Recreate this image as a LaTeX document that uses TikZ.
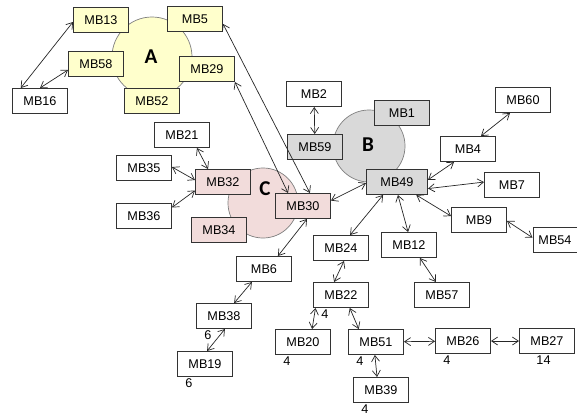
\documentclass[tikz,border=0pt]{standalone}
\usepackage{fontspec}
\setmainfont{Liberation Sans}
\newfontfamily\grpfont{Carlito}
\definecolor{mbyellow}{HTML}{FFFFCC}
\definecolor{mbgray}{HTML}{D9D9D9}
\definecolor{mbpink}{HTML}{F2DCDB}
\definecolor{rimgray}{HTML}{7F7F7F}
\usetikzlibrary{arrows.meta, positioning}
\tikzset{
  mbox/.style = {rectangle, draw = black!80, line width = 0.7pt, minimum width = 1.375cm, minimum height = 0.625cm, inner sep = 1pt, font = \fontsize{9}{10}\selectfont},
  grp/.style = {circle, draw = rimgray, line width = 0.5pt, inner sep = 0pt},
  grpname/.style = {font = \grpfont\bfseries\fontsize{15}{15}\selectfont},
  lnk/.style = {{Straight Barb[length=1.5mm, width=2mm]}-{Straight Barb[length=1.5mm, width=2mm]}, line width = 0.5pt, black!85},
  num/.style = {font = \fontsize{9}{10}\selectfont, inner sep = 0pt, anchor = north west, xshift = 0.2cm, yshift = -0.04cm}
}
\begin{document}
\begin{tikzpicture}[x = 0.025cm, y = -0.025cm]
\useasboundingbox (0,0) rectangle (577,415);
% groups
\node[grp, fill = mbyellow, minimum size = 2cm] (grpA) at (152,57) {};
\node[grp, fill = mbgray, minimum size = 1.8cm] (grpB) at (369,146) {};
\node[grp, fill = mbpink, minimum size = 1.75cm] (grpC) at (263,203) {};
\node[grpname] (nameA) at (151,57) {A};
\node[grpname] (nameB) at (368,145) {B};
\node[grpname] (nameC) at (265,189) {C};
% group A
\node[mbox, fill = mbyellow] (mb13) at (101,20) {MB13};
\node[mbox, fill = mbyellow] (mb5) at (195,19) {MB5};
\node[mbox, fill = mbyellow] (mb58) at (96,64) {MB58};
\node[mbox, fill = mbyellow] (mb29) at (207,69) {MB29};
\node[mbox, fill = mbyellow] (mb52) at (152,101) {MB52};
\node[mbox, fill = white] (mb16) at (40,101) {MB16};
% group B
\node[mbox, fill = white] (mb2) at (314,94) {MB2};
\node[mbox, fill = mbgray] (mb1) at (402,113) {MB1};
\node[mbox, fill = mbgray] (mb59) at (315,147) {MB59};
\node[mbox, fill = mbgray, minimum width = 1.525cm] (mb49) at (397,182) {MB49};
\node[mbox, fill = white] (mb60) at (523,100) {MB60};
\node[mbox, fill = white] (mb4) at (468,149) {MB4};
\node[mbox, fill = white] (mb7) at (512,185) {MB7};
\node[mbox, fill = white] (mb9) at (479,220) {MB9};
\node[mbox, fill = white, minimum width = 1.1cm] (mb54) at (555,240) {MB54};
\node[mbox, fill = white] (mb24) at (341,248) {MB24};
\node[mbox, fill = white] (mb12) at (409,245) {MB12};
\node[mbox, fill = white] (mb57) at (442,295) {MB57};
% group C
\node[mbox, fill = white] (mb21) at (182,135) {MB21};
\node[mbox, fill = white] (mb35) at (144,168) {MB35};
\node[mbox, fill = white] (mb36) at (144,216) {MB36};
\node[mbox, fill = mbpink] (mb32) at (223,182) {MB32};
\node[mbox, fill = mbpink] (mb34) at (219,230) {MB34};
\node[mbox, fill = mbpink] (mb30) at (303,206) {MB30};
\node[mbox, fill = white] (mb6) at (264,269) {MB6};
\node[mbox, fill = white, label = {[num]south west:6}] (mb38) at (224,316) {MB38};
\node[mbox, fill = white, label = {[num]south west:6}] (mb19) at (205,364) {MB19};
% lower chain
\node[mbox, fill = white, label = {[num]south west:4}] (mb22) at (341,295) {MB22};
\node[mbox, fill = white, label = {[num]south west:4}] (mb20) at (303,342) {MB20};
\node[mbox, fill = white, label = {[num]south west:4}] (mb51) at (376,342) {MB51};
\node[mbox, fill = white, label = {[num]south west:4}] (mb39) at (381,390) {MB39};
\node[mbox, fill = white, label = {[num]south west:4}] (mb26) at (463,341) {MB26};
\node[mbox, fill = white, label = {[num, xshift = 0.23cm]south west:14}] (mb27) at (547,341) {MB27};
% links
\draw[lnk] (mb13.184) -- (mb16.146);
\draw[lnk] (mb58.192) -- (mb16.90);
\draw[lnk] (mb5.350) -- (mb30.62);
\draw[lnk] (mb29.335) -- (mb30.139);
\draw[lnk] (mb2) -- (mb59);
\draw[lnk] (mb49.182) -- (mb30.11);
\draw[lnk] (mb60.225) -- (mb4.45);
\draw[lnk] (mb4.223) -- (mb49.4);
\draw[lnk] (mb49.348) -- (mb7.174);
\draw[lnk] (mb49.326) -- (mb9.172);
\draw[lnk] (mb9.358) -- (mb54.174);
\draw[lnk] (mb49.223) -- (mb24.55);
\draw[lnk] (mb49.274) -- (mb12.94);
\draw[lnk] (mb12.310) -- (mb57.115);
\draw[lnk] (mb21.319) -- (mb32.139);
\draw[lnk] (mb35.2) -- (mb32.176);
\draw[lnk] (mb36.17) -- (mb32.197);
\draw[lnk] (mb30.287) -- (mb6.43);
\draw[lnk] (mb6.227) -- (mb38.52);
\draw[lnk] (mb38.274) -- (mb19.81);
\draw[lnk] (mb24.283) -- (mb22.118);
\draw[lnk] (mb22.207) -- (mb20.55);
\draw[lnk] (mb22.304) -- (mb51.143);
\draw[lnk] (mb51.265) -- (mb39.107);
\draw[lnk] (mb51) -- (mb26);
\draw[lnk] (mb26) -- (mb27);
\end{tikzpicture}
\end{document}
